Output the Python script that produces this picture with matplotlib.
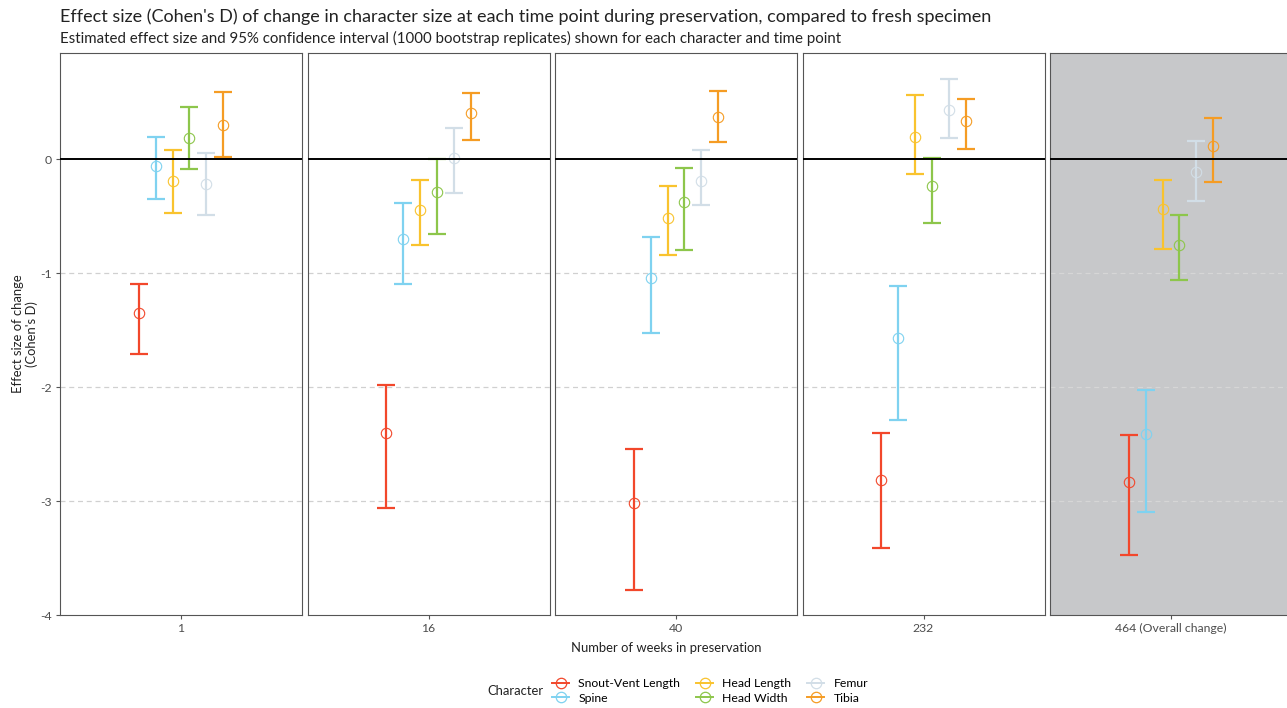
import matplotlib
matplotlib.use("Agg")
from matplotlib import pyplot as plt
from matplotlib.lines import Line2D

plt.rcParams['font.family'] = ['Lato', 'DejaVu Sans']

# Time points (facets) and characters
weeks = ["1", "16", "40", "232", "464 (Overall change)"]
characters = ["Snout-Vent Length", "Spine", "Head Length", "Head Width", "Femur", "Tibia"]
colors = ["#F2472B", "#7FD2F0", "#F9C32E", "#8DC64B", "#D2DEE7", "#F59C24"]

# Cohen's D estimate and 95% CI, one value per time point
svl_est = [-1.35, -2.40, -3.02, -2.82, -2.83]
svl_lo = [-1.71, -3.06, -3.78, -3.41, -3.47]
svl_hi = [-1.10, -1.98, -2.54, -2.40, -2.42]

spine_est = [-0.06, -0.70, -1.04, -1.57, -2.41]
spine_lo = [-0.35, -1.10, -1.53, -2.29, -3.10]
spine_hi = [0.19, -0.39, -0.68, -1.11, -2.03]

hl_est = [-0.19, -0.45, -0.52, 0.19, -0.44]
hl_lo = [-0.47, -0.75, -0.84, -0.13, -0.79]
hl_hi = [0.08, -0.18, -0.24, 0.56, -0.18]

hw_est = [0.18, -0.29, -0.38, -0.24, -0.75]
hw_lo = [-0.09, -0.66, -0.80, -0.56, -1.06]
hw_hi = [0.46, 0.00, -0.08, 0.01, -0.49]

femur_est = [-0.22, 0.01, -0.19, 0.43, -0.11]
femur_lo = [-0.49, -0.30, -0.40, 0.18, -0.37]
femur_hi = [0.05, 0.27, 0.08, 0.70, 0.16]

tibia_est = [0.30, 0.40, 0.37, 0.33, 0.11]
tibia_lo = [0.02, 0.17, 0.15, 0.09, -0.20]
tibia_hi = [0.59, 0.58, 0.60, 0.53, 0.36]

series = [(svl_est, svl_lo, svl_hi), (spine_est, spine_lo, spine_hi),
          (hl_est, hl_lo, hl_hi), (hw_est, hw_lo, hw_hi),
          (femur_est, femur_lo, femur_hi), (tibia_est, tibia_lo, tibia_hi)]

W, H = 1287, 708
fig = plt.figure(figsize=(W / 100, H / 100), dpi=100)


def px_axes(x0, y0, w, h):
    return fig.add_axes([x0 / W, 1 - (y0 + h) / H, w / W, h / H])


txtcol = '#4d4d4d'
dodge = 0.5 / 6
for i, wk in enumerate(weeks):
    ax = px_axes(60 + i * 247.5, 53, 242, 562)
    ax.set_xlim(0.4, 1.6)
    ax.set_ylim(-4, 0.93)
    ax.set_facecolor('#c7c8ca' if i == 4 else 'white')
    for y in [-1, -2, -3]:
        ax.axhline(y, color='#d0d0d0' if i < 4 else '#d6d6d6', lw=0.9,
                   ls=(0, (4, 3)), zorder=0)
    for j, col in enumerate(colors):
        est, lo, hi = series[j]
        x = 1 + (j - 2.5) * dodge
        ax.errorbar([x], [est[i]], yerr=[[est[i] - lo[i]], [hi[i] - est[i]]],
                    fmt='none', ecolor=col, elinewidth=1.6, capsize=6.2,
                    capthick=1.6, zorder=2)
        ax.plot([x], [est[i]], marker='o', ms=7.5, mfc='none', mec=col,
                mew=0.8, zorder=3)
    ax.axhline(0, color='black', lw=1.4, zorder=4)
    for s in ax.spines.values():
        s.set_color('#555555')
        s.set_linewidth(0.8)
    ax.set_xticks([1])
    ax.set_xticklabels([wk])
    ax.tick_params(axis='x', length=3, color='#555555', labelsize=8.8,
                   labelcolor=txtcol, pad=3)
    if i == 0:
        ax.set_yticks([0, -1, -2, -3, -4])
        ax.set_yticklabels(['0', '-1', '-2', '-3', '-4'])
        ax.tick_params(axis='y', length=3, color='#555555', labelsize=8.8,
                       labelcolor=txtcol, pad=3)
    else:
        ax.set_yticks([])

fig.text(60 / W, 1 - 17 / H, "Effect size (Cohen's D) of change in character size at each "
         "time point during preservation, compared to fresh specimen",
         fontsize=13, va='center', ha='left', color='#222222')
fig.text(60 / W, 1 - 38 / H, "Estimated effect size and 95% confidence interval (1000 "
         "bootstrap replicates) shown for each character and time point",
         fontsize=10.8, va='center', ha='left', color='#222222')
fig.text(666 / W, 1 - 648 / H, "Number of weeks in preservation", fontsize=9.4,
         ha='center', va='center', color='#222222')
fig.text(25 / W, 1 - 334 / H, "Effect size of change\n(Cohen's D)", fontsize=9.4,
         ha='center', va='center', rotation=90, color='#222222',
         linespacing=1.1)

handles = [Line2D([0], [0], color=c, lw=1.4, marker='o', ms=7.5, mfc='none',
                  mec=c, mew=0.9) for c in colors]
fig.text(515 / W, 1 - 691 / H, "Character", fontsize=9.4, ha='center',
         va='center', color='#222222')
fig.legend(handles, characters, loc='center left', ncol=3,
           bbox_to_anchor=(552 / W, 1 - 691 / H), frameon=False, fontsize=8.8,
           handlelength=1.4, handletextpad=0.75, columnspacing=1.3,
           labelspacing=0.25, borderaxespad=0, borderpad=0)

fig.savefig('out.png', dpi=100)
